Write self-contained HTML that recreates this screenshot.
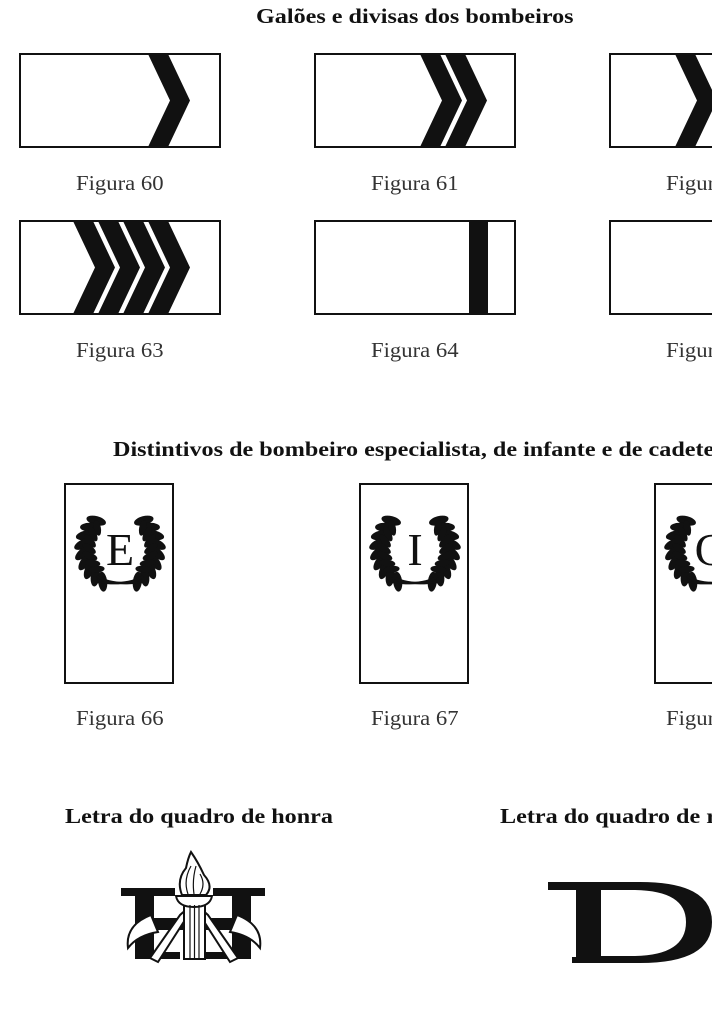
<!DOCTYPE html>
<html><head><meta charset="utf-8"><style>
body{margin:0;background:#fff;width:712px;height:1024px;overflow:hidden;position:relative;font-family:"Liberation Serif",serif;color:#111}
.t{position:absolute;white-space:nowrap;font-weight:bold;font-size:21px;transform:scaleX(1.15);transform-origin:0 0}
.f{position:absolute;white-space:nowrap;font-size:21px;color:#333;transform:scaleX(1.08);transform-origin:0 0}
svg{position:absolute;left:0;top:0}
</style></head><body>
<div class="t" style="left:256px;top:4px">Galões e divisas dos bombeiros</div>
<div class="t" style="left:113px;top:437px">Distintivos de bombeiro especialista, de infante e de cadete</div>
<div class="t" style="left:65px;top:804px">Letra do quadro de honra</div>
<div class="t" style="left:500px;top:804px">Letra do quadro de re</div>
<div class="f" style="left:76px;top:171px">Figura 60</div>
<div class="f" style="left:371px;top:171px">Figura 61</div>
<div class="f" style="left:666px;top:171px">Figur</div>
<div class="f" style="left:76px;top:338px">Figura 63</div>
<div class="f" style="left:371px;top:338px">Figura 64</div>
<div class="f" style="left:666px;top:338px">Figur</div>
<div class="f" style="left:76px;top:706px">Figura 66</div>
<div class="f" style="left:371px;top:706px">Figura 67</div>
<div class="f" style="left:666px;top:706px">Figur</div>
<svg width="712" height="1024" viewBox="0 0 712 1024">
<defs>
<path id="chev" d="M0 0 L20 0 L42 46.5 L20 93 L0 93 L22 46.5 Z"/>
<g id="wreath">
 <g fill="#111">
  <g id="half">
   <ellipse cx="120" cy="512" rx="4.5" ry="10" transform="rotate(-40 120 549) rotate(-35 120 512)"/>
   <ellipse cx="120" cy="512" rx="4.5" ry="10" transform="rotate(-54 120 549) rotate(-35 120 512)"/>
   <ellipse cx="120" cy="512" rx="4.5" ry="10" transform="rotate(-68 120 549) rotate(-35 120 512)"/>
   <ellipse cx="120" cy="512" rx="4.5" ry="10" transform="rotate(-82 120 549) rotate(-35 120 512)"/>
   <ellipse cx="120" cy="512" rx="4.5" ry="10" transform="rotate(-96 120 549) rotate(-35 120 512)"/>
   <ellipse cx="120" cy="512" rx="4.5" ry="10" transform="rotate(-110 120 549) rotate(-35 120 512)"/>
   <ellipse cx="120" cy="512" rx="4.5" ry="10" transform="rotate(-124 120 549) rotate(-35 120 512)"/>
   <ellipse cx="120" cy="512" rx="4.5" ry="10" transform="rotate(-138 120 549) rotate(-35 120 512)"/>
   <ellipse cx="120" cy="512" rx="4.5" ry="10" transform="rotate(-152 120 549) rotate(-35 120 512)"/>
   <ellipse cx="120" cy="518" rx="3.5" ry="8" transform="rotate(-47 120 549) rotate(35 120 518)"/>
   <ellipse cx="120" cy="518" rx="3.5" ry="8" transform="rotate(-61 120 549) rotate(35 120 518)"/>
   <ellipse cx="120" cy="518" rx="3.5" ry="8" transform="rotate(-75 120 549) rotate(35 120 518)"/>
   <ellipse cx="120" cy="518" rx="3.5" ry="8" transform="rotate(-89 120 549) rotate(35 120 518)"/>
   <ellipse cx="120" cy="518" rx="3.5" ry="8" transform="rotate(-103 120 549) rotate(35 120 518)"/>
   <ellipse cx="120" cy="518" rx="3.5" ry="8" transform="rotate(-117 120 549) rotate(35 120 518)"/>
   <ellipse cx="120" cy="518" rx="3.5" ry="8" transform="rotate(-131 120 549) rotate(35 120 518)"/>
  </g>
  <use href="#half" transform="translate(240 0) scale(-1 1)"/>
 </g>
 <path d="M97 576 Q110 586 142 582 M143 576 Q130 586 98 582" stroke="#111" stroke-width="2.5" fill="none"/>
</g>
</defs>
<g fill="none" stroke="#111" stroke-width="2">
 <rect x="20" y="54" width="200" height="93"/>
 <rect x="315" y="54" width="200" height="93"/>
 <rect x="610" y="54" width="110" height="93"/>
 <rect x="20" y="221" width="200" height="93"/>
 <rect x="315" y="221" width="200" height="93"/>
 <rect x="610" y="221" width="110" height="93"/>
 <rect x="65" y="484" width="108" height="199"/>
 <rect x="360" y="484" width="108" height="199"/>
 <rect x="655" y="484" width="70" height="199"/>
</g>
<g fill="#111">
 <use href="#chev" x="148" y="54"/>
 <use href="#chev" x="420" y="54"/>
 <use href="#chev" x="445" y="54"/>
 <use href="#chev" x="675" y="54"/>
 <use href="#chev" x="73" y="221"/>
 <use href="#chev" x="98" y="221"/>
 <use href="#chev" x="123" y="221"/>
 <use href="#chev" x="148" y="221"/>
 <rect x="469" y="221" width="19" height="93"/>
</g>
<use href="#wreath"/>
<use href="#wreath" x="295"/>
<use href="#wreath" x="590"/>
<g font-family="Liberation Serif,serif" font-size="46" fill="#111" text-anchor="middle">
 <text x="120" y="565">E</text>
 <text x="415" y="565">I</text>
 <text x="710" y="565">C</text>
</g>
<!-- H with torch -->
<g fill="#111">
 <rect x="121" y="888" width="54" height="8"/>
 <rect x="213" y="888" width="52" height="8"/>
 <rect x="135" y="895" width="19" height="62"/>
 <rect x="232" y="895" width="19" height="62"/>
 <rect x="135" y="952" width="45" height="7"/>
 <rect x="206" y="952" width="45" height="7"/>
 <rect x="150" y="918" width="90" height="12"/>
</g>
<g fill="#fff" stroke="#111" stroke-width="2">
 <path d="M150 958 L180 915 Q190 905 200 910 L185 920 L158 962 Z"/>
 <path d="M238 958 L208 915 Q198 905 188 910 L203 920 L230 962 Z"/>
 <path d="M151 915 Q125 925 128 948 Q138 935 158 932 Z"/>
 <path d="M237 915 Q263 925 260 948 Q250 935 230 932 Z"/>
 <rect x="184" y="903" width="21" height="56"/>
 <path d="M176 896 Q178 907 194 907 Q210 907 212 896 Z"/>
 <path d="M182 895 Q176 880 186 868 Q188 858 191 852 Q198 862 204 875 Q214 886 206 895 Z"/>
</g>
<g stroke="#111" stroke-width="1.2" fill="none">
 <path d="M190 905 v54 M194.5 905 v54 M199 905 v54"/>
 <path d="M188 894 Q183 880 191 866 M194 894 Q192 880 196 866 M200 894 Q206 884 200 874"/>
</g>
<!-- D -->
<path fill="#111" fill-rule="evenodd" d="M548 882 H640 Q712 882 712 922 Q712 963 640 963 H572 V957 H576 V890 H548 Z M601 890 V956 H632 Q686 956 686 922 Q686 890 632 890 Z"/>
</svg>
</body></html>
